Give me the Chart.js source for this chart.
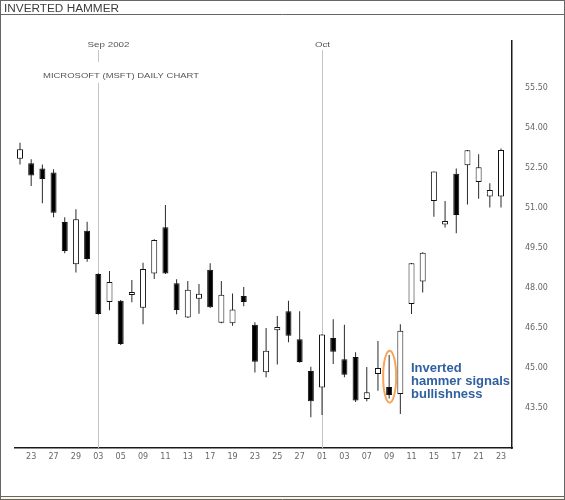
<!DOCTYPE html>
<html><head><meta charset="utf-8">
<script src="https://cdn.jsdelivr.net/npm/chart.js@4.4.0/dist/chart.umd.min.js"></script>
<style>html,body{margin:0;padding:0;background:#fff}canvas{display:block}</style>
</head><body>
<canvas id="c" width="565" height="500"></canvas>
<script>
const dates = ['2002-08-22','2002-08-23','2002-08-26','2002-08-27','2002-08-28','2002-08-29','2002-08-30',
  '2002-09-03','2002-09-04','2002-09-05','2002-09-06','2002-09-09','2002-09-10','2002-09-11','2002-09-12','2002-09-13',
  '2002-09-16','2002-09-17','2002-09-18','2002-09-19','2002-09-20','2002-09-23','2002-09-24','2002-09-25','2002-09-26',
  '2002-09-27','2002-09-30','2002-10-01','2002-10-02','2002-10-03','2002-10-04','2002-10-07','2002-10-08','2002-10-09',
  '2002-10-10','2002-10-11','2002-10-14','2002-10-15','2002-10-16','2002-10-17','2002-10-18','2002-10-21','2002-10-22','2002-10-23'];
const opens  = [52.85,52.68,52.49,52.34,50.48,48.89,50.15,48.53,47.48,47.52,47.74,47.26,48.55,50.28,48.18,46.90,47.60,48.69,46.70,46.68,47.70,46.62,44.84,46.42,47.13,46.08,44.89,44.27,46.13,45.33,45.41,43.84,44.78,44.29,44.03,47.40,48.25,51.27,50.39,52.29,52.61,51.98,51.44,51.44];
const highs  = [53.45,52.83,52.64,52.46,50.66,50.96,50.49,48.56,48.64,47.55,48.30,48.95,49.83,51.12,48.33,48.27,48.15,48.93,48.27,47.80,48.04,46.72,46.50,46.95,47.52,47.13,45.05,46.27,46.83,46.62,45.59,45.04,46.01,45.49,46.64,48.94,49.34,52.37,51.27,52.49,53.18,53.02,51.93,53.24];
const lows   = [52.64,51.83,51.18,50.66,49.31,48.58,48.99,47.00,47.17,45.86,47.47,46.64,48.34,48.53,47.02,46.88,47.04,47.25,46.68,46.59,47.32,44.83,44.65,45.13,45.97,45.20,43.15,43.24,45.15,44.65,43.73,43.75,44.15,43.86,43.28,47.03,47.83,50.68,50.27,50.06,51.14,51.35,51.02,51.02];
const closes = [53.21,52.22,52.09,50.83,49.39,50.58,49.09,47.03,48.23,45.90,47.85,48.72,49.80,48.55,47.18,47.94,47.79,47.28,47.75,47.20,47.48,45.24,45.65,46.54,46.21,45.23,43.75,46.26,45.61,44.75,43.78,44.09,45.00,43.99,46.40,48.93,49.33,52.37,50.52,50.74,53.17,52.53,51.68,53.18];
const tickDates = ['2002-08-23','2002-08-27','2002-08-29','2002-09-03','2002-09-05','2002-09-09','2002-09-11','2002-09-13',
  '2002-09-17','2002-09-19','2002-09-23','2002-09-25','2002-09-27','2002-10-01','2002-10-03','2002-10-07','2002-10-09',
  '2002-10-11','2002-10-15','2002-10-17','2002-10-21','2002-10-23'];
const yTickValues = [43.5,45.0,46.5,48.0,49.5,51.0,52.5,54.0,55.5];
const eventDates = ['2002-09-03','2002-10-01'];
const eventLabels = ['Sep 2002','Oct'];
const hammerDate = '2002-10-09';
const noteLines = ['Inverted','hammer signals','bullishness'];

const wickData = dates.map((d,i)=>({x:i, y:[lows[i], highs[i]]}));
const bodyData = dates.map((d,i)=>({x:i, y:[opens[i], closes[i]]}));
const bodyColors = dates.map((d,i)=> closes[i] >= opens[i] ? '#ffffff' : '#000000');

function fitText(c, text, x, y, size, width, color, align){
  c.save();
  c.font = size + 'px "Liberation Sans", Arial, sans-serif';
  const w = c.measureText(text).width;
  const s = width / w;
  c.translate(align === 'center' ? x - width/2 : x, y);
  c.scale(s, 1);
  c.fillStyle = color;
  c.textBaseline = 'alphabetic';
  c.textAlign = 'left';
  c.fillText(text, 0, 0);
  c.restore();
}

const decor = {
  id: 'decor',
  beforeDraw(chart){
    const c = chart.ctx;
    c.save();
    c.fillStyle = '#ffffff'; c.fillRect(0,0,565,500);
    c.fillStyle = '#fbf7e3'; c.fillRect(1,497,563,3);
    c.strokeStyle = '#666666'; c.lineWidth = 1;
    c.strokeRect(0.5,0.5,564,496);
    c.beginPath();
    c.moveTo(0,14.5); c.lineTo(565,14.5);
    c.moveTo(0,499.5); c.lineTo(565,499.5);
    c.moveTo(0.5,496); c.lineTo(0.5,500);
    c.moveTo(564.5,496); c.lineTo(564.5,500);
    c.stroke();
    fitText(c, 'INVERTED HAMMER', 4, 11.5, 10, 115, '#3c3c3c', 'left');
    c.restore();
  },
  beforeDatasetsDraw(chart){
    const c = chart.ctx, xs = chart.scales.x, area = chart.chartArea;
    c.save();
    c.strokeStyle = '#c4c4c4'; c.lineWidth = 1;
    eventDates.forEach((d,k)=>{
      const px = Math.round(xs.getPixelForValue(dates.indexOf(d))) + 0.5;
      c.beginPath(); c.moveTo(px, 50); c.lineTo(px, area.bottom); c.stroke();
      if (k === 0) fitText(c, eventLabels[k], px - 11, 47, 7.5, 42, '#555555', 'left');
      else fitText(c, eventLabels[k], px, 46.5, 7.5, 15, '#555555', 'center');
    });
    c.fillStyle = '#ffffff'; c.fillRect(41, 62, 160, 21);
    fitText(c, 'MICROSOFT (MSFT) DAILY CHART', 43, 77.5, 7.5, 156, '#555555', 'left');
    c.restore();
  },
  afterDatasetsDraw(chart){
    const c = chart.ctx, xs = chart.scales.x, ys = chart.scales.y;
    const i = dates.indexOf(hammerDate);
    const cx = xs.getPixelForValue(i);
    const cy = ys.getPixelForValue((highs[i] + lows[i]) / 2);
    c.save();
    c.strokeStyle = '#f4a65c'; c.lineWidth = 2;
    c.beginPath(); c.ellipse(cx + 0.5, cy, 6.5, 26, 0, 0, Math.PI*2); c.stroke();
    c.fillStyle = '#30619f';
    c.font = 'bold 13px "Liberation Sans", Arial, sans-serif';
    c.textBaseline = 'alphabetic'; c.textAlign = 'left';
    noteLines.forEach((t,k)=> c.fillText(t, 411, 371.5 + k*13));
    c.restore();
  }
};

new Chart(document.getElementById('c').getContext('2d'), {
  type: 'bar',
  data: { datasets: [
    { label:'Body', data: bodyData, backgroundColor: bodyColors, borderColor:'#111111', borderWidth:1,
      borderSkipped:false, barThickness:6, grouped:false, order:1, inflateAmount:0 },
    { label:'Range', data: wickData, backgroundColor:'#2a2a2a', borderWidth:0,
      barThickness:1, grouped:false, order:2, inflateAmount:0 }
  ]},
  options: {
    responsive:false, animation:false, devicePixelRatio:1,
    layout:{ padding:{ left:15, top:41, right:13, bottom:0 } },
    plugins:{ legend:{display:false}, tooltip:{enabled:false} },
    scales:{
      x:{ type:'linear', min:-0.447, max:43.983, offset:false,
        grid:{display:false, drawTicks:false},
        border:{display:true, color:'#1a1a1a', width:1.5},
        afterBuildTicks: s => { s.ticks = tickDates.map(d => ({value: dates.indexOf(d)})); },
        afterFit: s => { s.height = 52; },
        ticks:{ autoSkip:false, maxRotation:0, padding:4, color:'#666666',
          font:{family:'DejaVu Sans', size:8},
          callback: v => dates[v] ? dates[v].slice(8,10) : '' } },
      y:{ type:'linear', position:'right', min:42.0, max:57.27,
        grid:{display:false, drawTicks:false},
        border:{display:true, color:'#1a1a1a', width:1.5},
        afterBuildTicks: s => { s.ticks = yTickValues.map(v => ({value:v})); },
        afterFit: s => { s.width = 40; },
        ticks:{ padding:13, color:'#666666', font:{family:'DejaVu Sans', size:8},
          callback: v => Number(v).toFixed(2) } }
    }
  },
  plugins:[decor]
});
</script>
</body></html>
